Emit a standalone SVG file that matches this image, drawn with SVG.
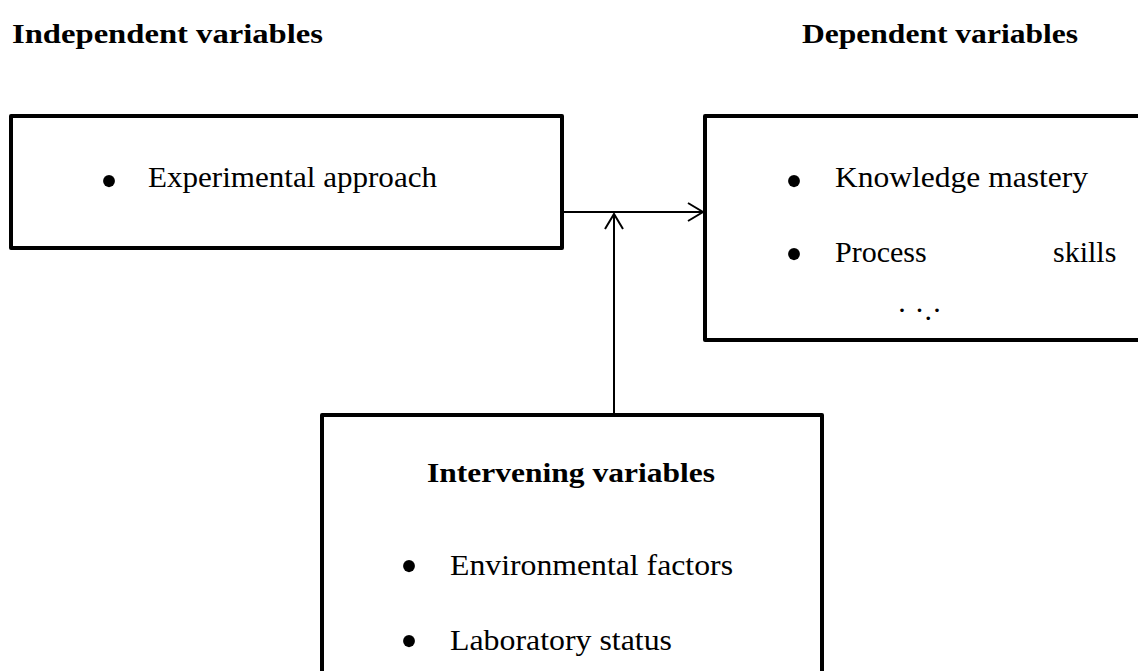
<svg xmlns="http://www.w3.org/2000/svg" width="1138" height="671" viewBox="0 0 1138 671">
<style>
.box{fill:#fff;stroke:#000;stroke-width:4;stroke-linejoin:round}
.t{font-family:"Liberation Serif","Times New Roman",serif;font-size:30px;fill:#000}
.h{font-weight:bold;font-size:28px}
.bu{font-family:"Liberation Serif","Times New Roman",serif;font-size:50px;fill:#000;text-anchor:middle}
.c{fill:none;stroke:#000;stroke-width:2}
</style>
<defs>
<marker id="ah" viewBox="0 0 20 24" refX="18" refY="12" markerWidth="20" markerHeight="24" markerUnits="userSpaceOnUse" orient="auto">
<path d="M3,3 L18,12 L3,21" fill="none" stroke="#000" stroke-width="2"/>
</marker>
</defs>
<text class="t h" x="12" y="43" textLength="311" lengthAdjust="spacingAndGlyphs">Independent variables</text>
<text class="t h" x="802" y="43" textLength="276" lengthAdjust="spacingAndGlyphs">Dependent variables</text>
<g id="independent">
<rect class="box" x="11" y="116" width="551" height="132"/>
<text class="bu" x="109" y="198">•</text>
<text class="t" x="148" y="187" textLength="289" lengthAdjust="spacingAndGlyphs">Experimental approach</text>
</g>
<g id="dependent">
<rect class="box" x="705" y="116" width="460" height="224"/>
<text class="bu" x="794" y="198">•</text>
<text class="t" x="835" y="187" textLength="253" lengthAdjust="spacingAndGlyphs">Knowledge mastery</text>
<text class="bu" x="794" y="271">•</text>
<text class="t" x="835" y="262">Process</text>
<text class="t" x="1053" y="262">skills</text>
<text class="t" x="897" y="320">·  ·.·</text>
</g>
<g id="intervening">
<rect class="box" x="322" y="415" width="500" height="290"/>
<text class="t h" x="427" y="482" textLength="288" lengthAdjust="spacingAndGlyphs">Intervening variables</text>
<text class="bu" x="409" y="583">•</text>
<text class="t" x="450" y="575" textLength="283" lengthAdjust="spacingAndGlyphs">Environmental factors</text>
<text class="bu" x="409" y="658">•</text>
<text class="t" x="450" y="650" textLength="222" lengthAdjust="spacingAndGlyphs">Laboratory status</text>
</g>
<g id="connectors">
<path class="c" d="M562,212 H703" marker-end="url(#ah)"/>
<path class="c" d="M614,414 V214" marker-end="url(#ah)"/>
</g>
</svg>
